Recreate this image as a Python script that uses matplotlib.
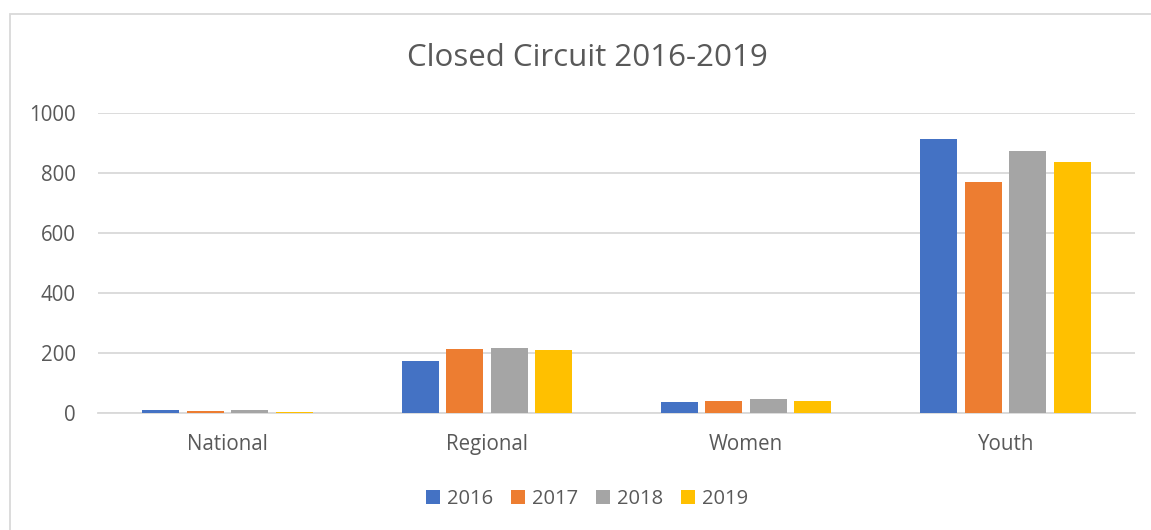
import matplotlib
matplotlib.use("Agg")
import matplotlib.pyplot as plt
import numpy as np
from matplotlib.patches import Rectangle

categories = ['National', 'Regional', 'Women', 'Youth']
years = ['2016', '2017', '2018', '2019']
v2016 = [11, 174, 38, 915]
v2017 = [8, 212, 41, 771]
v2018 = [11, 218, 47, 874]
v2019 = [4, 211, 40, 836]
yticks = [0, 200, 400, 600, 800, 1000]

series = [v2016, v2017, v2018, v2019]
cols = ['#4472C4', '#ED7D31', '#A5A5A5', '#FFC000']
txtcol = '#595959'
gridcol = '#D9D9D9'

plt.rcParams['font.family'] = ['Open Sans', 'DejaVu Sans']

fig = plt.figure(figsize=(11.51, 5.3), dpi=100)
# chart border
fig.patches.append(Rectangle((10/1151., -0.1), 1.2, 1 - 14/530. + 0.1,
                             transform=fig.transFigure, fill=False,
                             edgecolor=gridcol, linewidth=1.3))

ax = fig.add_axes([98/1151., 1 - 413/530., (1135-98)/1151., 300/530.])

x = np.arange(len(categories))
slot = 0.1716
width = 0.143
for i, vals in enumerate(series):
    ax.bar(x + (i - 1.5)*slot, vals, width, color=cols[i], label=years[i], zorder=3)

ax.set_xlim(-0.5, 3.5)
ax.set_ylim(0, 1000)
ax.set_yticks(yticks)
ax.set_xticks(x)
ax.set_xticklabels(categories)
ax.grid(axis='y', color=gridcol, linewidth=1.3, zorder=0)
for s in ['top', 'right', 'left']:
    ax.spines[s].set_visible(False)
ax.spines['bottom'].set_color(gridcol)
ax.spines['bottom'].set_linewidth(1.3)
ax.tick_params(axis='both', length=0, labelsize=14.8, colors=txtcol)
ax.tick_params(axis='y', pad=16)
ax.tick_params(axis='x', pad=15)

cx = 587/1151.
fig.text(cx, 1 - 58/530., 'Closed Circuit 2016-2019', ha='center', va='center',
         fontsize=22.5, color=txtcol)

leg = fig.legend(loc='center', bbox_to_anchor=(cx, 1 - 499/530.), ncol=4,
                 frameon=False, fontsize=14.5, handlelength=0.67, handleheight=0.67,
                 handletextpad=0.36, columnspacing=0.9, borderaxespad=0)
for t in leg.get_texts():
    t.set_color(txtcol)

plt.savefig('out.png', dpi=100)
